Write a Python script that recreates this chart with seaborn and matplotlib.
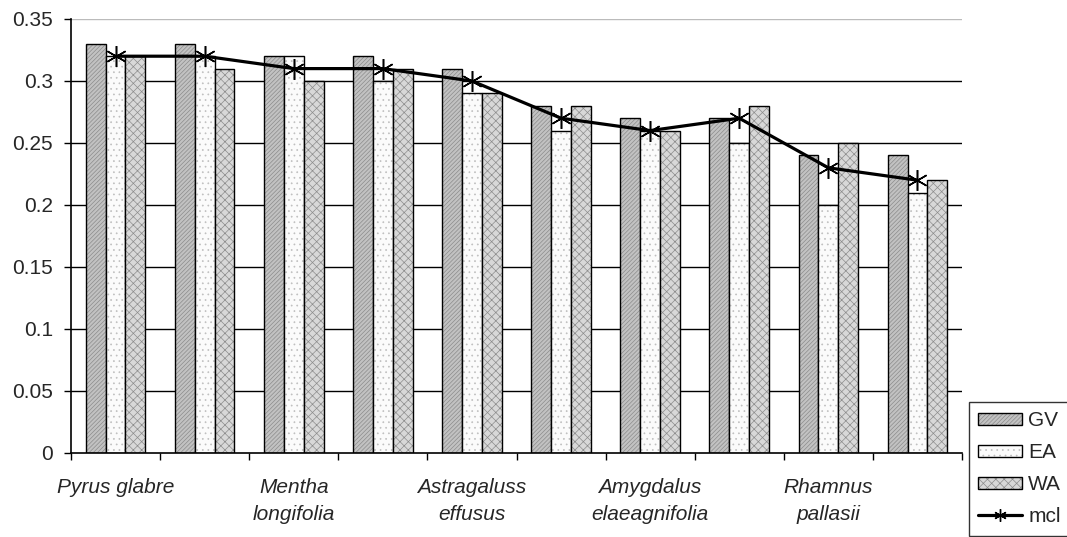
import numpy as np
import pandas as pd
import matplotlib
matplotlib.use("Agg")
import matplotlib.pyplot as plt
import seaborn as sns
from matplotlib.patches import Patch
from matplotlib.lines import Line2D

# Index values per species (10 species, labels shown under every second group)
species_labels = ["Pyrus glabre", "", "Mentha\nlongifolia", "", "Astragaluss\neffusus", "",
                  "Amygdalus\nelaeagnifolia", "", "Rhamnus\npallasii", ""]
gv = [0.33, 0.33, 0.32, 0.32, 0.31, 0.28, 0.27, 0.27, 0.24, 0.24]
ea = [0.32, 0.32, 0.32, 0.30, 0.29, 0.26, 0.26, 0.25, 0.20, 0.21]
wa = [0.32, 0.31, 0.30, 0.31, 0.29, 0.28, 0.26, 0.28, 0.25, 0.22]
mcl = [0.32, 0.32, 0.31, 0.31, 0.30, 0.27, 0.26, 0.27, 0.23, 0.22]
series = ["GV", "EA", "WA"]
y_ticks = [0, 0.05, 0.1, 0.15, 0.2, 0.25, 0.3, 0.35]
y_ticklabels = ["0", "0.05", "0.1", "0.15", "0.2", "0.25", "0.3", "0.35"]

n = len(gv)
df = pd.DataFrame({
    "idx": np.tile(np.arange(n), 3),
    "series": np.repeat(series, n),
    "value": gv + ea + wa,
})

sns.set_theme(style="white")
plt.rcParams["font.family"] = ["Liberation Sans", "DejaVu Sans"]
plt.rcParams["hatch.linewidth"] = 0.5

fig = plt.figure(figsize=(10.67, 5.37), dpi=100)
ax = fig.add_axes([71 / 1067, 84 / 537, 891 / 1067, 434 / 537])

# horizontal gridlines
for t in y_ticks[1:-1]:
    ax.axhline(t, color="black", lw=1.0, zorder=0)
ax.axhline(0.35, color="#bbbbbb", lw=1.0, zorder=0)

fills = {"GV": "#c2c2c2", "EA": "#fbfbfb", "WA": "#d8d8d8"}
hatches = {"GV": "////////", "EA": "...", "WA": "xxxx"}
hatch_cols = {"GV": (0.55, 0.55, 0.55, 1), "EA": (0.75, 0.75, 0.75, 1), "WA": (0.55, 0.55, 0.55, 1)}

sns.barplot(data=df, x="idx", y="value", hue="series", hue_order=series,
            palette=fills, width=0.67, dodge=True, saturation=1,
            edgecolor="black", linewidth=1.0, ax=ax, legend=False, zorder=2,
            order=list(range(n)))

for cont, s in zip(ax.containers, series):
    for p in cont.patches:
        p.set_hatch(hatches[s])
        p._hatch_color = hatch_cols[s]

ax.plot(np.arange(n), mcl, color="black", lw=2.3, marker=(6, 2, 0),
        markersize=15, markeredgewidth=1.1, markeredgecolor="black", zorder=4)

ax.set_xlim(-0.5, n - 0.5)
ax.set_ylim(0, 0.35)
ax.set_yticks(y_ticks)
ax.set_yticklabels(y_ticklabels, fontsize=15)
ax.set_xlabel("")
ax.set_ylabel("")

# labels centred under groups, tick marks on group boundaries
ax.set_xticks(np.arange(n))
ax.set_xticklabels(species_labels, fontsize=15, style="italic", linespacing=1.55)
ax.tick_params(axis="x", which="major", length=0, pad=18)
ax.set_xticks(np.arange(n + 1) - 0.5, minor=True)
ax.tick_params(axis="x", which="minor", bottom=True, length=5, width=1, color="black", direction="out")
ax.tick_params(axis="y", left=True, length=5, width=1, color="black", direction="out", pad=8)

for side in ["top", "right"]:
    ax.spines[side].set_visible(False)
for side in ["left", "bottom"]:
    ax.spines[side].set_color("black")
    ax.spines[side].set_linewidth(1.2)

# legend
handles = []
for s in series:
    h = Patch(facecolor=fills[s], edgecolor="black", hatch=hatches[s], linewidth=1.0)
    h._hatch_color = hatch_cols[s]
    handles.append(h)
handles.append(Line2D([], [], color="black", lw=2.3, marker=(6, 2, 0),
                      markersize=9, markeredgewidth=1.0))
leg = fig.legend(handles, series + ["mcl"], loc="upper left",
                 bbox_to_anchor=(969 / 1067, 1 - 402 / 537), fontsize=15,
                 frameon=True, fancybox=False, edgecolor="black",
                 handlelength=2.1, handleheight=0.55, labelspacing=0.62,
                 borderpad=0.45, handletextpad=0.3, borderaxespad=0)
leg.get_frame().set_linewidth(1.0)

fig.savefig("out.png", dpi=100)
